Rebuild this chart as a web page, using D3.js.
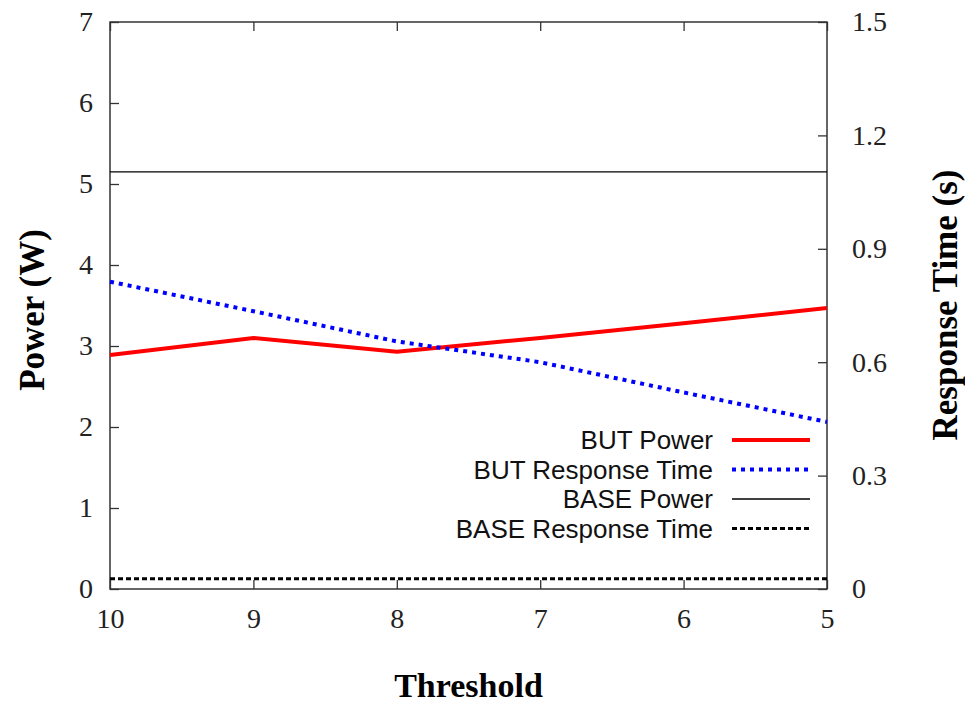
<!DOCTYPE html>
<html>
<head>
<meta charset="utf-8">
<script src="https://cdn.jsdelivr.net/npm/d3@7"></script>
<style>
  body { margin: 0; background: #fff; }
  svg { display: block; }
  .tick text { font-family: 'Liberation Serif', 'DejaVu Serif', serif; }
</style>
</head>
<body>
<svg id="svg" width="965" height="706"></svg>
<script>
// data
const thresholds = [10, 9, 8, 7, 6, 5];
const butPower = [2.89, 3.10, 2.93, 3.10, 3.28, 3.47];
const butResponse = [0.813, 0.735, 0.655, 0.60, 0.52, 0.442];
const basePower = [5.15, 5.15, 5.15, 5.15, 5.15, 5.15];
const baseResponse = [0.027, 0.027, 0.027, 0.027, 0.027, 0.027];

const powerTicks = [0, 1, 2, 3, 4, 5, 6, 7];
const respTicks = [0, 0.3, 0.6, 0.9, 1.2, 1.5];

const legendNames = ['BUT Power', 'BUT Response Time', 'BASE Power', 'BASE Response Time'];

// layout
const margin = { top: 22, right: 138, bottom: 117, left: 110 };
const W = 965, H = 706;

const svg = d3.select('#svg');

const x = d3.scaleLinear().domain([10, 5]).range([margin.left, W - margin.right]);
const yL = d3.scaleLinear().domain([0, 7]).range([H - margin.bottom, margin.top]);
const yR = d3.scaleLinear().domain([0, 1.5]).range([H - margin.bottom, margin.top]);

// axes
const tickLen = 9;
const axisStyle = (g) => {
	g.select('.domain').remove();
	g.selectAll('.tick line').attr('stroke', '#333').attr('stroke-width', 1.3);
	g.selectAll('.tick text').attr('font-size', 28).attr('fill', '#222');
};

svg.append('g')
	.attr('transform', `translate(0, ${H - margin.bottom})`)
	.call(d3.axisBottom(x).tickValues(thresholds).tickFormat(d3.format('d')).tickSizeInner(-tickLen).tickPadding(19))
	.call(axisStyle);

svg.append('g')
	.attr('transform', `translate(0, ${margin.top})`)
	.call(d3.axisTop(x).tickValues(thresholds).tickFormat('').tickSizeInner(-tickLen))
	.call(axisStyle);

svg.append('g')
	.attr('transform', `translate(${margin.left}, 0)`)
	.call(d3.axisLeft(yL).tickValues(powerTicks).tickFormat(d3.format('d')).tickSizeInner(-tickLen).tickPadding(17))
	.call(axisStyle);

svg.append('g')
	.attr('transform', `translate(${W - margin.right}, 0)`)
	.call(d3.axisRight(yR).tickValues(respTicks).tickFormat((d) => d === 0 ? '0' : d3.format('.1f')(d)).tickSizeInner(-tickLen).tickPadding(25))
	.call(axisStyle);

// frame
svg.append('rect')
	.attr('x', margin.left)
	.attr('y', margin.top)
	.attr('width', W - margin.right - margin.left)
	.attr('height', H - margin.bottom - margin.top)
	.attr('fill', 'none')
	.attr('stroke', '#333')
	.attr('stroke-width', 1.5);

// series
const series = [
	{ vals: butPower, y: yL, color: '#ff0000', width: 4, dash: null },
	{ vals: butResponse, y: yR, color: '#0000ff', width: 4, dash: '4,5' },
	{ vals: basePower, y: yL, color: '#000', width: 1.4, dash: null },
	{ vals: baseResponse, y: yR, color: '#000', width: 3, dash: '5,3' }
];

const plot = svg.append('g');
series.forEach((s) => {
	const line = d3.line()
		.x((d, i) => x(thresholds[i]))
		.y((d) => s.y(d));
	plot.append('path')
		.datum(s.vals)
		.attr('d', line)
		.attr('fill', 'none')
		.attr('stroke', s.color)
		.attr('stroke-width', s.width)
		.attr('stroke-dasharray', s.dash);
});

// legend
const legend = svg.append('g');
legendNames.forEach((name, i) => {
	const yy = 440 + i * 29.5;
	legend.append('text')
		.attr('x', 713)
		.attr('y', yy)
		.attr('dy', '0.35em')
		.attr('text-anchor', 'end')
		.attr('font-family', "'Liberation Sans', Arial, sans-serif")
		.attr('font-size', 26)
		.attr('fill', '#111')
		.text(name);
	const s = series[i];
	legend.append('line')
		.attr('x1', 732).attr('x2', 810)
		.attr('y1', yy).attr('y2', yy)
		.attr('stroke', s.color)
		.attr('stroke-width', s.width)
		.attr('stroke-dasharray', s.dash);
});

// axis titles
const titleFont = "'Liberation Serif', 'DejaVu Serif', serif";
svg.append('text')
	.attr('x', (margin.left + W - margin.right) / 2)
	.attr('y', 697)
	.attr('text-anchor', 'middle')
	.attr('font-family', titleFont)
	.attr('font-weight', 'bold')
	.attr('font-size', 34)
	.text('Threshold');

svg.append('text')
	.attr('transform', `translate(44, 310) rotate(-90)`)
	.attr('text-anchor', 'middle')
	.attr('font-family', titleFont)
	.attr('font-weight', 'bold')
	.attr('font-size', 35)
	.text('Power (W)');

svg.append('text')
	.attr('transform', `translate(957, 305) rotate(-90)`)
	.attr('text-anchor', 'middle')
	.attr('font-family', titleFont)
	.attr('font-weight', 'bold')
	.attr('font-size', 35)
	.text('Response Time (s)');
</script>
</body>
</html>
